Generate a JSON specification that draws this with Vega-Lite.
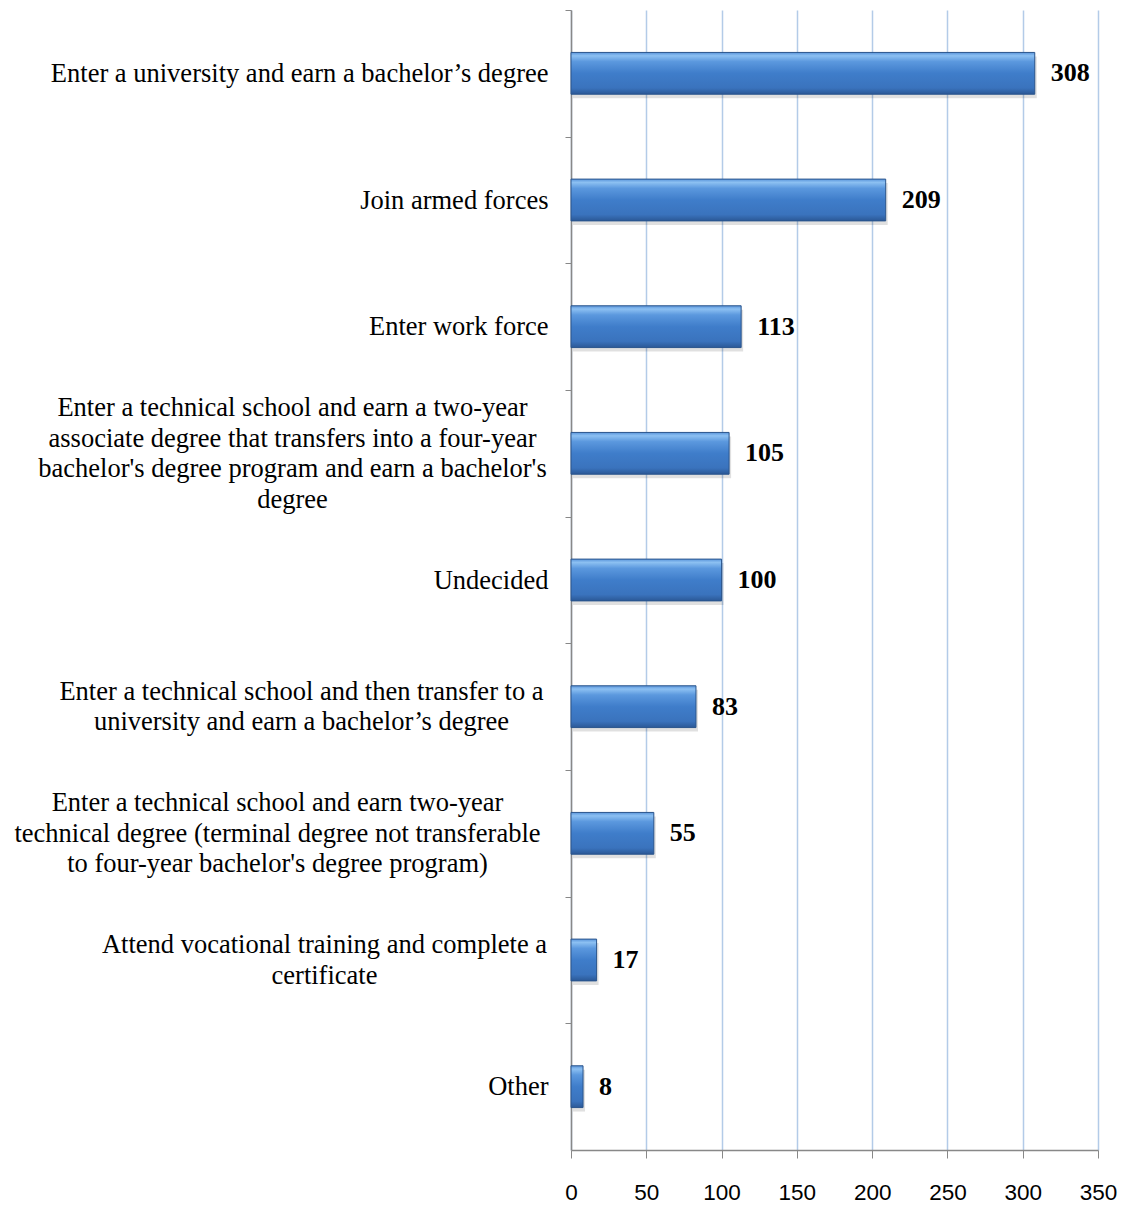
{
  "$schema": "https://vega.github.io/schema/vega-lite/v6.json",
  "width": 527,
  "height": 1140,
  "autosize": {"type": "none"},
  "padding": {"left": 571, "top": 10, "right": 31, "bottom": 55},
  "background": "white",
  "config": {"view": {"stroke": null}},
  "data": {
    "values": [
      {"plan": "Enter a university and earn a bachelor’s degree", "count": 308},
      {"plan": "Join armed forces", "count": 209},
      {"plan": "Enter work force", "count": 113},
      {"plan": "Enter  a technical school and earn a two-year|associate degree that transfers into a four-year|bachelor's degree program and earn a bachelor's|degree", "count": 105},
      {"plan": "Undecided", "count": 100},
      {"plan": "Enter  a technical school and then transfer to a|university and earn a bachelor’s degree", "count": 83},
      {"plan": "Enter  a technical school and earn two-year|technical degree (terminal degree not transferable|to four-year bachelor's degree program)", "count": 55},
      {"plan": "Attend vocational training and complete a|certificate", "count": 17},
      {"plan": "Other", "count": 8}
    ]
  },
  "encoding": {
    "y": {
      "field": "plan",
      "type": "nominal",
      "sort": null,
      "scale": {"paddingInner": 0.67, "paddingOuter": 0.335},
      "axis": {
        "title": null,
        "labelExpr": "split(datum.label, '|')",
        "labelFont": "Liberation Serif",
        "labelFontSize": 26.5,
        "labelColor": "black",
        "labelLineHeight": 30.5,
        "labelLimit": 800,
        "labelAlign": {"condition": {"test": "indexof(datum.label, '|') >= 0", "value": "center"}, "value": "right"},
        "labelPadding": {"condition": [
          {"test": "indexof(datum.label, 'associate') >= 0", "value": 273},
          {"test": "indexof(datum.label, 'terminal') >= 0", "value": 288},
          {"test": "indexof(datum.label, 'transfer to') >= 0", "value": 264},
          {"test": "indexof(datum.label, 'vocational') >= 0", "value": 241}
        ], "value": 17},
        "tickOffset": -63.33,
        "labelOffset": {"condition": [
          {"test": "length(split(datum.label, '|')) == 4", "value": 17.58},
          {"test": "length(split(datum.label, '|')) == 3", "value": 32.83},
          {"test": "length(split(datum.label, '|')) == 2", "value": 48.08}
        ], "value": 63.33},
        "tickSize": 6,
        "tickColor": "#888888",
        "domainColor": "#888888",
        "domainWidth": 1.5,
        "grid": false
      }
    },
    "x": {
      "field": "count",
      "type": "quantitative",
      "scale": {"domain": [0, 350], "nice": false},
      "axis": {
        "title": null,
        "values": [0, 50, 100, 150, 200, 250, 300, 350],
        "labelFont": "Liberation Sans",
        "labelFontSize": 22.5,
        "labelColor": "black",
        "labelPadding": 23,
        "labelFlush": false,
        "tickSize": 8,
        "tickColor": "#888888",
        "domainColor": "#888888",
        "domainWidth": 1.5,
        "grid": true,
        "gridColor": "#b3cbe8",
        "gridWidth": 1.5
      }
    }
  },
  "layer": [
    {
      "mark": {
        "type": "bar",
        "color": "#000000",
        "opacity": 0.12,
        "yOffset": 4,
        "xOffset": 2
      }
    },
    {
      "mark": {
        "type": "bar",
        "stroke": "#2a558c",
        "strokeWidth": 1,
        "color": {
          "gradient": "linear",
          "x1": 0, "y1": 0, "x2": 0, "y2": 1,
          "stops": [
            {"offset": 0, "color": "#5a95db"},
            {"offset": 0.08, "color": "#8cc0f2"},
            {"offset": 0.22, "color": "#5b98de"},
            {"offset": 0.5, "color": "#3f7dca"},
            {"offset": 0.85, "color": "#3a73bd"},
            {"offset": 1, "color": "#2b5896"}
          ]
        }
      }
    },
    {
      "mark": {
        "type": "text",
        "align": "left",
        "baseline": "middle",
        "dx": 16,
        "font": "Liberation Serif",
        "fontSize": 26,
        "fontWeight": "bold",
        "color": "black"
      },
      "encoding": {"text": {"field": "count", "type": "quantitative"}}
    }
  ]
}
